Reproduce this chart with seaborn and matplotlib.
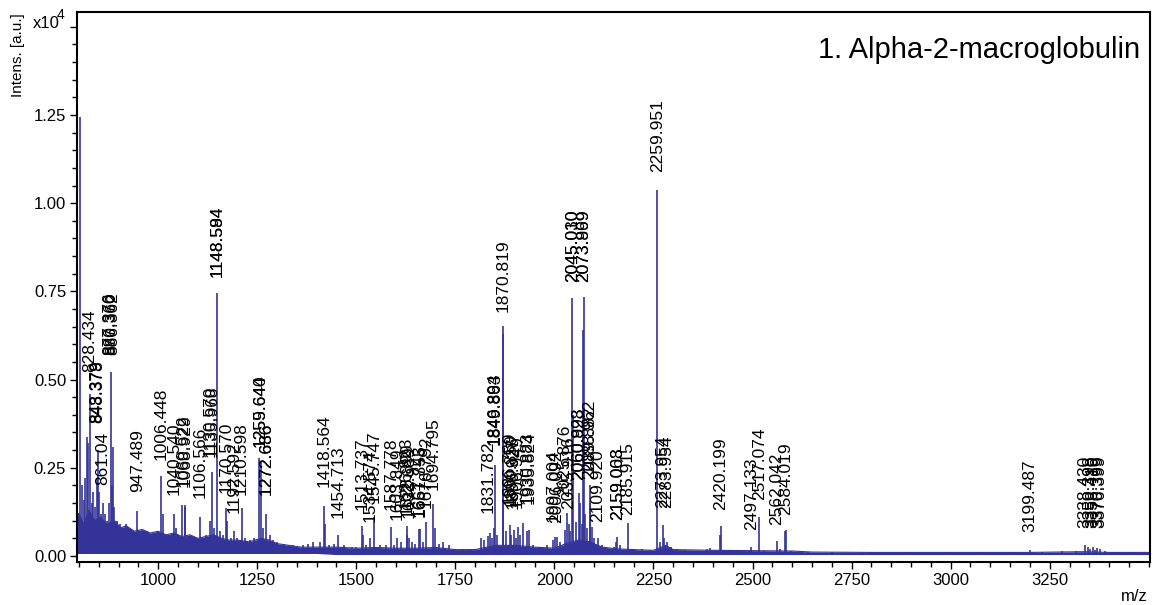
import matplotlib
matplotlib.use("Agg")
import matplotlib.pyplot as plt
from matplotlib.ticker import MultipleLocator
import seaborn as sns
import pandas as pd

# ---------------- data ----------------
# noise floor envelope of the spectrum (m/z, lower edge, upper edge; x1e4)
noise_mz = [796, 800, 812, 825, 840, 855, 870, 890, 905, 920, 940, 960, 980,
            1000, 1020, 1040, 1060, 1080, 1100, 1120, 1140, 1160, 1180, 1200,
            1230, 1260, 1280, 1300, 1330, 1360, 1400, 1450, 1500, 1550, 1600,
            1650, 1700, 1750, 1800, 1850, 1900, 1950, 2000, 2030, 2060, 2090,
            2120, 2160, 2200, 2250, 2280, 2300, 2400, 2500, 2600, 2650, 2800,
            3000, 3200, 3330, 3400, 3503]
noise_top = [0.12, 0.12, 0.09, 0.13, 0.10, 0.11, 0.09, 0.10, 0.08, 0.085,
             0.07, 0.075, 0.065, 0.07, 0.06, 0.065, 0.055, 0.06, 0.05, 0.055,
             0.06, 0.05, 0.045, 0.045, 0.04, 0.05, 0.045, 0.035, 0.03, 0.025,
             0.025, 0.025, 0.022, 0.024, 0.022, 0.022, 0.024, 0.018, 0.018,
             0.03, 0.03, 0.025, 0.022, 0.035, 0.045, 0.04, 0.025, 0.02, 0.018,
             0.016, 0.03, 0.018, 0.016, 0.015, 0.014, 0.011, 0.010, 0.010,
             0.010, 0.012, 0.010, 0.010]
noise_low = [0.007] * 31 + [0.004] * 31

# peaks (m/z, intensity x1e4)
peak_mz = [
    803.4, 807.5, 812.0, 816.5, 819.5, 823.0, 828.4, 833.0, 836.5, 841.0,
    845.4, 848.4, 852.0, 856.0, 861.0, 866.0, 871.0, 876.5, 880.4, 883.0,
    886.4, 889.0, 895.0, 903.0, 910.0, 918.0, 928.0, 936.0, 947.5, 956.0,
    963.0, 971.0, 980.0, 990.0, 998.0, 1006.4, 1012.0, 1020.0, 1030.0, 1040.5,
    1046.0, 1052.0, 1060.5, 1066.9, 1068.9, 1078.0, 1088.0, 1095.0, 1106.6, 1115.0,
    1122.0, 1130.6, 1135.9, 1141.0, 1148.6, 1156.0, 1163.0, 1170.6, 1175.0, 1183.0,
    1192.6, 1200.0, 1210.6, 1220.0, 1232.0, 1241.0, 1255.6, 1259.6, 1265.0, 1272.7,
    1282.0, 1290.0, 1300.0, 1318.0, 1340.0, 1365.0, 1378.0, 1391.0, 1408.0, 1418.6,
    1421.5, 1432.0, 1443.0, 1454.7, 1470.0, 1488.0, 1500.0, 1513.7, 1517.0, 1525.0,
    1534.6, 1545.7, 1560.0, 1575.0, 1587.8, 1596.0, 1603.8, 1612.0, 1626.8, 1628.9,
    1632.7, 1640.0, 1648.0, 1657.7, 1661.9, 1668.0, 1676.8, 1694.8, 1698.0, 1708.0,
    1720.0, 1735.0, 1769.0, 1790.0, 1815.0, 1822.0, 1831.8, 1838.0, 1842.0, 1846.9,
    1849.9, 1855.0, 1869.2, 1870.8, 1877.0, 1886.8, 1890.9, 1896.9, 1902.0, 1906.9,
    1912.0, 1920.0, 1930.9, 1935.8, 1945.0, 1960.0, 1982.0, 1997.0, 2002.0, 2006.1,
    2015.0, 2025.9, 2031.0, 2035.9, 2040.0, 2045.0, 2046.5, 2054.0, 2060.9, 2065.0,
    2069.0, 2072.6, 2074.0, 2078.0, 2083.0, 2089.0, 2089.9, 2095.0, 2101.0, 2109.9,
    2120.0, 2135.0, 2150.0, 2155.0, 2159.0, 2165.0, 2185.9, 2200.0, 2220.0, 2240.0,
    2259.95, 2266.0, 2273.95, 2277.0, 2283.95, 2295.0, 2310.0, 2330.0, 2360.0, 2385.0,
    2392.0, 2418.0, 2420.2, 2440.0, 2470.0, 2490.0, 2497.1, 2517.1, 2530.0, 2562.0,
    2570.0, 2582.0, 2584.0, 2598.0, 2640.0, 2700.0, 2800.0, 2900.0, 3000.0, 3080.0,
    3150.0, 3199.5, 3230.0, 3280.0, 3315.0, 3338.4, 3346.0, 3352.0, 3358.0, 3365.0,
    3370.4, 3376.4, 3390.0, 3410.0, 3450.0]
peak_int = [
    1.245, 0.20, 0.16, 0.22, 0.338, 0.32, 0.46, 0.15, 0.18, 0.14,
    0.22, 0.30, 0.18, 0.12, 0.15, 0.12, 0.10, 0.15, 0.52, 0.20,
    0.31, 0.14, 0.10, 0.09, 0.08, 0.09, 0.075, 0.07, 0.126, 0.06,
    0.065, 0.07, 0.06, 0.055, 0.06, 0.227, 0.12, 0.06, 0.055, 0.12,
    0.08, 0.06, 0.145, 0.14, 0.145, 0.05, 0.055, 0.05, 0.11, 0.05,
    0.06, 0.10, 0.239, 0.08, 0.745, 0.07, 0.06, 0.136, 0.10, 0.05,
    0.07, 0.05, 0.136, 0.05, 0.045, 0.05, 0.277, 0.27, 0.08, 0.12,
    0.06, 0.045, 0.04, 0.035, 0.03, 0.03, 0.035, 0.04, 0.04, 0.142,
    0.09, 0.03, 0.035, 0.06, 0.03, 0.025, 0.025, 0.085, 0.06, 0.03,
    0.05, 0.11, 0.03, 0.03, 0.083, 0.03, 0.05, 0.04, 0.085, 0.06,
    0.05, 0.04, 0.035, 0.075, 0.075, 0.04, 0.097, 0.147, 0.08, 0.035,
    0.04, 0.03, 0.02, 0.02, 0.05, 0.045, 0.057, 0.065, 0.05, 0.08,
    0.258, 0.06, 0.63, 0.652, 0.07, 0.088, 0.06, 0.074, 0.05, 0.083,
    0.06, 0.093, 0.07, 0.074, 0.03, 0.025, 0.03, 0.045, 0.055, 0.055,
    0.04, 0.074, 0.123, 0.09, 0.07, 0.73, 0.40, 0.097, 0.178, 0.15,
    0.09, 0.64, 0.735, 0.12, 0.08, 0.20, 0.15, 0.083, 0.05, 0.05,
    0.03, 0.02, 0.025, 0.04, 0.055, 0.03, 0.093, 0.02, 0.02, 0.018,
    1.037, 0.04, 0.088, 0.05, 0.04, 0.025, 0.02, 0.018, 0.015, 0.02,
    0.023, 0.06, 0.085, 0.015, 0.015, 0.015, 0.026, 0.111, 0.015, 0.043,
    0.02, 0.07, 0.074, 0.015, 0.012, 0.011, 0.011, 0.011, 0.011, 0.011,
    0.012, 0.017, 0.012, 0.013, 0.013, 0.03, 0.025, 0.02, 0.024, 0.018,
    0.022, 0.02, 0.014, 0.012, 0.011]

# peak labels: text, m/z position, intensity they sit above
label_text = [
    "828.434", "843.379", "848.378", "861.04", "877.376", "880.360", "886.362",
    "947.489", "1006.448", "1040.540", "1060.522", "1068.929", "1106.566",
    "1130.570", "1135.968", "1148.594", "1148.584", "1170.570", "1192.592",
    "1210.598", "1255.640", "1259.644", "1272.686", "1272.636", "1418.564",
    "1454.713", "1513.737", "1534.574", "1545.747", "1587.778", "1603.849",
    "1626.823", "1628.899", "1632.689", "1657.743", "1661.855", "1676.792",
    "1694.795", "1831.782", "1846.894", "1849.863", "1870.819", "1886.789",
    "1890.850", "1896.927", "1906.949", "1930.883", "1935.824", "1997.004",
    "2006.092", "2025.876", "2035.916", "2045.010", "2045.030", "2073.999",
    "2073.869", "2060.893", "2060.928", "2088.962", "2089.882", "2109.920",
    "2159.003", "2159.068", "2185.915", "2259.951", "2273.954", "2283.954",
    "2420.199", "2497.133", "2517.074", "2562.042", "2584.019", "3199.487",
    "3338.430", "3350.398", "3358.410", "3370.399", "3376.399"]
label_mz = [
    828.4, 844.5, 847.6, 861.0, 877.4, 880.4, 885.5,
    947.5, 1006.4, 1040.5, 1062.0, 1067.5, 1106.6,
    1131.0, 1136.0, 1148.6, 1148.6, 1170.6, 1192.6,
    1210.6, 1256.6, 1258.6, 1272.7, 1272.7, 1418.6,
    1454.7, 1513.7, 1534.6, 1545.7, 1587.8, 1603.8,
    1626.8, 1628.9, 1632.7, 1657.7, 1661.9, 1676.8,
    1694.8, 1831.8, 1846.9, 1849.9, 1870.8, 1886.8,
    1890.9, 1896.9, 1906.9, 1930.9, 1935.8, 1997.0,
    2006.1, 2025.9, 2035.9, 2045.0, 2045.0, 2074.0,
    2074.0, 2060.9, 2060.9, 2089.0, 2089.9, 2109.9,
    2159.0, 2159.0, 2185.9, 2259.95, 2273.95, 2283.95,
    2420.2, 2497.1, 2517.1, 2562.0, 2584.0, 3199.5,
    3338.4, 3350.4, 3358.4, 3370.4, 3376.4]
label_at = [
    0.474, 0.33, 0.33, 0.154, 0.522, 0.522, 0.522,
    0.135, 0.225, 0.125, 0.148, 0.148, 0.117,
    0.233, 0.233, 0.743, 0.743, 0.13, 0.074,
    0.125, 0.262, 0.262, 0.125, 0.125, 0.148,
    0.06, 0.083, 0.049, 0.103, 0.083, 0.055,
    0.085, 0.07, 0.06, 0.063, 0.063, 0.09,
    0.14, 0.075, 0.267, 0.267, 0.644, 0.10,
    0.095, 0.085, 0.09, 0.10, 0.10, 0.049,
    0.046, 0.12, 0.085, 0.729, 0.729, 0.729,
    0.729, 0.168, 0.168, 0.19, 0.17, 0.049,
    0.055, 0.055, 0.069, 1.04, 0.089, 0.089,
    0.083, 0.026, 0.11, 0.04, 0.069, 0.02,
    0.032, 0.032, 0.032, 0.032, 0.032]

x_ticks = [1000, 1250, 1500, 1750, 2000, 2250, 2500, 2750, 3000, 3250]
y_ticks = [0.0, 0.25, 0.5, 0.75, 1.0, 1.25, 1.5]
y_tick_labels = ["0.00", "0.25", "0.50", "0.75", "1.00", "1.25", ""]

# ---------------- drawing ----------------
BLUE = "#333399"
sns.set_theme(style="ticks")
plt.rcParams["font.family"] = ["Liberation Sans", "DejaVu Sans"]
plt.rcParams["text.color"] = "black"
plt.rcParams["axes.labelcolor"] = "black"

W, H = 1153, 605
fig = plt.figure(figsize=(W / 100, H / 100), dpi=100)
ax = fig.add_axes([77.3 / W, 1 - 562.3 / H, (1150 - 77.3) / W, (562.3 - 12.3) / H])

noise_df = pd.DataFrame({"mz": noise_mz, "low": noise_low, "top": noise_top})
ax.fill_between(noise_df["mz"], noise_df["low"], noise_df["top"],
                color=BLUE, lw=0)
sns.lineplot(data=noise_df, x="mz", y="top", color=BLUE, lw=0.8,
             estimator=None, ax=ax)
ax.vlines(peak_mz, 0.005, peak_int, color=BLUE, lw=1.2)

for t, m, a in zip(label_text, label_mz, label_at):
    ax.annotate(t, (m, a), xytext=(0, 12), textcoords="offset points",
                rotation=90, ha="center", va="bottom", fontsize=12.5,
                color="black", annotation_clip=False)

ax.set_xlim(796, 3503)
ax.set_ylim(-0.018, 1.541)
ax.set_xticks(x_ticks)
ax.set_xticklabels([str(v) for v in x_ticks])
ax.set_yticks(y_ticks)
ax.set_yticklabels(y_tick_labels)
ax.xaxis.set_minor_locator(MultipleLocator(50))
ax.yaxis.set_minor_locator(MultipleLocator(0.05))
ax.tick_params(which="major", direction="out", length=5, width=1,
               labelsize=12, pad=3, color="black", labelcolor="black")
ax.tick_params(which="minor", direction="out", length=3.5, width=1,
               color="black")
ax.set_xlabel("")
ax.set_ylabel("")
ax.grid(False)
for s in ax.spines.values():
    s.set_linewidth(1.5)
    s.set_color("black")

fig.text(18 / W, 1 - 13 / H, "Intens. [a.u.]", rotation=90, ha="center",
         va="top", fontsize=11, color="black")
fig.text(33 / W, 1 - 28 / H, "x10", ha="left", va="baseline", fontsize=12,
         color="black")
fig.text(56.5 / W, 1 - 19 / H, "4", ha="left", va="baseline", fontsize=10,
         color="black")
fig.text(1140 / W, 1 - 58 / H, "1. Alpha-2-macroglobulin", ha="right",
         va="baseline", fontsize=21, color="black")
fig.text(1148 / W, 1 - 601 / H, "m/z", ha="right", va="baseline", fontsize=12,
         color="black")

fig.savefig("out.png", dpi=100)
